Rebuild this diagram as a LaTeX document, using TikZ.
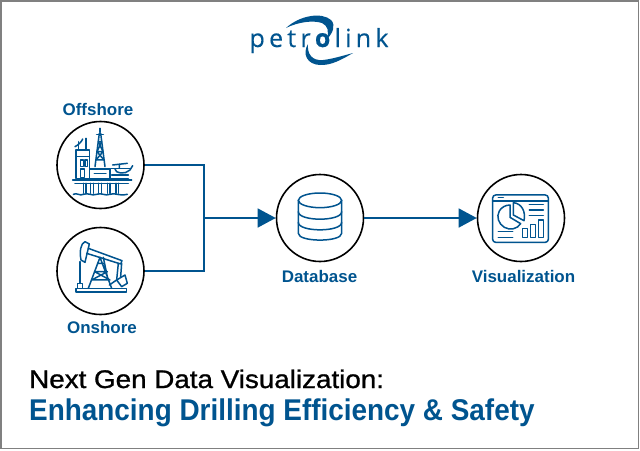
\documentclass[tikz,border=0pt]{standalone}
\usepackage{fontspec}
\setmainfont{Liberation Sans}
\newfontfamily\logofont[LetterSpace=17]{Open Sans}
\usetikzlibrary{arrows.meta}
\definecolor{pblue}{HTML}{00548F}
\tikzset{
  hub/.style={circle,draw=black,line width=1.6pt,fill=white,minimum size=87pt,inner sep=0pt},
  lab/.style={anchor=base,text=pblue,font=\fontsize{16.8}{18}\selectfont\bfseries\addfontfeature{FakeStretch=1.01},inner sep=0pt},
  wire/.style={draw=pblue,line width=1.4pt},
  flow/.style={wire,-{Triangle[length=18pt,width=19pt]}},
  ico/.style={draw=pblue,line width=1.5pt,line join=round,line cap=round},
  zoomed/.style={shift={(#1)},x=0.3333pt,y=-0.3333pt}
}
\begin{document}
\begin{tikzpicture}[x=1pt,y=-1pt]
\useasboundingbox (0,0) rectangle (640,450);
\draw[draw=black!50,line width=1.5pt] (1,1) rectangle (638.5,448.5);
% logo
\fill[pblue] (286,28) .. controls (300,15) and (322,12) .. (331,20) .. controls (336,25) and (333,33) .. (327,39) .. controls (329,31) and (328,26) .. (322,23) .. controls (313,20) and (298,22) .. (286,28) -- cycle;
\fill[pblue] (308,44) .. controls (307,54) and (312,61) .. (323,60) .. controls (332,59) and (342,56) .. (353,53) .. controls (341,60) and (331,65.5) .. (320,65) .. controls (307,64.5) and (302,54) .. (308,44) -- cycle;
\node[anchor=base,inner sep=0pt,text=pblue,font=\logofont\fontsize{25}{27}\selectfont\addfontfeature{FakeBold=0.3}] (logo) at (319,47) {petr\textbf{o}link};
% hubs
\node[hub] (off) at (100.5,165) {};
\node[hub] (on) at (100.5,271) {};
\node[hub] (db) at (320,218) {};
\node[hub] (vis) at (521,218) {};
\coordinate (join) at (204,218);
\draw[wire] (off.east) -| (join) |- (on.east);
\draw[flow] (join) -- (db.west);
\draw[flow] (db.east) -- (vis.west);
\node[lab] (loff) at (98,115) {Offshore};
\node[lab] (lon) at (102,333) {Onshore};
\node[lab] (ldb) at (319.5,282) {Database};
\node[lab] (lvis) at (523.5,282) {Visualization};
% offshore icon
\begin{scope}[zoomed={50pt,-95pt},ico]
 \draw (78,165) rectangle (118,250);
 \draw (78,185) -- (118,185);
 \draw (92,195) rectangle (100,215) (105,195) rectangle (113,215);
 \draw (92,222) rectangle (103,248);
 \draw (85,165) -- (85,140) (108,165) -- (108,130);
 \draw (75,155) .. controls (85,150) and (95,140) .. (98,132);
 \draw (135,215) -- (148,115) -- (152,115) -- (165,215);
 \draw (150,112) -- (150,100) (140,118) -- (160,118);
 \draw (141,170) -- (159,170) (138,195) -- (162,195) (141,170) -- (162,195) (159,170) -- (138,195) (145,140) -- (155,140) (145,140) -- (159,170) (155,140) -- (141,170);
 \draw (118,222) rectangle (180,250);
 \draw (133,235) -- (168,235);
 \draw (182,220) -- (240,220);
 \draw (188,210) -- (232,205);
 \draw (208,208) -- (208,218) (195,222) .. controls (195,235) and (225,240) .. (240,225) -- (248,212);
 \draw (185,240) -- (235,240) (180,250) -- (235,250);
 \draw (68,255) -- (245,255);
 \draw (75,265) -- (235,265);
 \foreach \lx in {100,122,146,172,198} {\draw (\lx,265) -- (\lx,295) (\lx+8,265) -- (\lx+8,295);}
 \draw (70,298) .. controls (80,292) and (90,304) .. (100,298) .. controls (115,292) and (125,304) .. (140,298) .. controls (155,292) and (165,304) .. (180,298) .. controls (195,292) and (205,304) .. (232,298);
\end{scope}
% onshore icon
\begin{scope}[zoomed={50pt,-220pt},ico]
 \draw (78,205) rectangle (230,216);
 \draw (105,65) .. controls (92,70) and (88,95) .. (93,120) -- (105,127) .. controls (110,105) and (115,85) .. (118,72) -- cycle;
 \draw (115,85) -- (216,122) -- (212,132) -- (110,100);
 \draw (90,125) -- (90,190) (82,190) rectangle (98,205);
 \draw (150,112) -- (115,205) (150,112) -- (185,205) (160,112) -- (172,170);
 \draw (143,130) -- (162,130) (134,155) -- (172,155) (125,180) -- (180,180) (134,155) -- (180,180) (172,155) -- (125,180);
 \draw (205,130) -- (200,180) (215,130) -- (212,170);
 \draw (200,180) -- (225,165) -- (232,190) -- (215,200) -- (200,180);
 \draw (178,195) -- (200,180);
\end{scope}
% database icon
\begin{scope}[zoomed={260pt,-165pt},ico]
 \draw (180,106) ellipse [x radius=65,y radius=22];
 \draw (115,106) -- (115,205) .. controls (115,232) and (245,232) .. (245,205) -- (245,106);
 \draw (115,140) .. controls (115,170) and (245,170) .. (245,140);
 \draw (115,172) .. controls (115,202) and (245,202) .. (245,172);
\end{scope}
% visualization icon
\begin{scope}[zoomed={460pt,-165pt},ico]
 \draw[rounded corners=3pt] (98,90) rectangle (265,232);
 \draw (98,108) -- (265,108);
 \draw (115,98) -- (130,98);
 \draw (150,120) -- (150,157) -- (182,176) .. controls (172,192) and (150,197) .. (133,187) .. controls (116,177) and (108,155) .. (118,138) .. controls (124,127) and (137,120) .. (150,120) -- cycle;
 \draw (160,113) -- (160,150) -- (192,167) .. controls (198,140) and (185,115) .. (160,113) -- cycle;
 \draw (208,118) -- (250,118) (208,135) -- (250,135) (208,152) -- (250,152);
 \draw (188,190) rectangle (203,218) (212,178) rectangle (227,218) (236,165) rectangle (251,218);
 \draw (115,200) -- (158,200) (115,217) -- (158,217);
\end{scope}
% title
\node[anchor=base west,inner sep=0pt,font=\fontsize{25.5}{27}\selectfont\addfontfeature{FakeStretch=1.09,FakeBold=1}] (t1) at (29,388) {Next Gen Data Visualization:};
\node[anchor=base west,inner sep=0pt,text=pblue,font=\fontsize{30}{32}\selectfont\bfseries\addfontfeature{FakeStretch=0.93}] (t2) at (29,420) {Enhancing Drilling Efficiency \& Safety};
\end{tikzpicture}
\end{document}
